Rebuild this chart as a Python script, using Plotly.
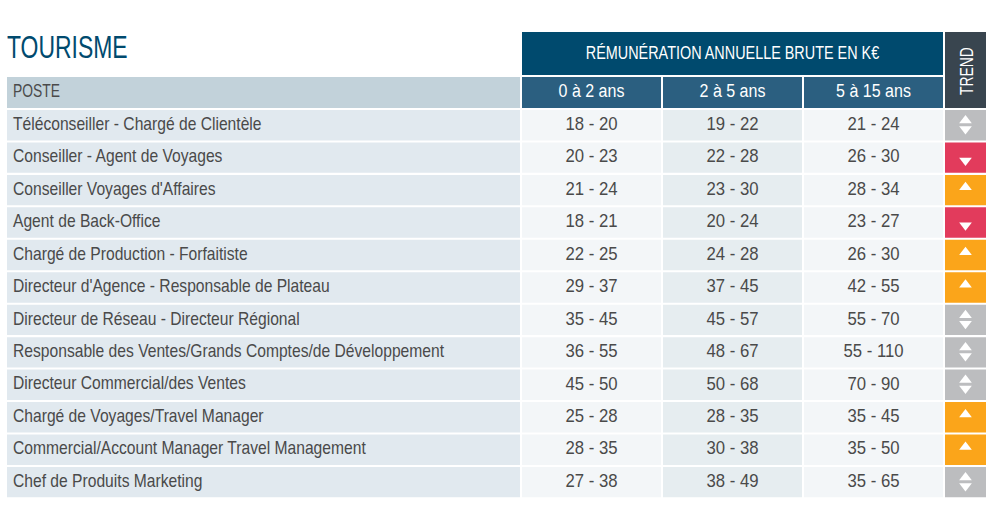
import json
import plotly.graph_objects as go

title = "TOURISME"
group_header = "RÉMUNÉRATION ANNUELLE BRUTE EN K€"
trend_header = "TREND"
poste_header = "POSTE"
periods = ["0 à 2 ans", "2 à 5 ans", "5 à 15 ans"]
postes = [
    "Téléconseiller - Chargé de Clientèle",
    "Conseiller - Agent de Voyages",
    "Conseiller Voyages d'Affaires",
    "Agent de Back-Office",
    "Chargé de Production - Forfaitiste",
    "Directeur d'Agence - Responsable de Plateau",
    "Directeur de Réseau - Directeur Régional",
    "Responsable des Ventes/Grands Comptes/de Développement",
    "Directeur Commercial/des Ventes",
    "Chargé de Voyages/Travel Manager",
    "Commercial/Account Manager Travel Management",
    "Chef de Produits Marketing",
]
salaires_0_2 = ["18 - 20", "20 - 23", "21 - 24", "18 - 21", "22 - 25", "29 - 37", "35 - 45", "36 - 55", "45 - 50", "25 - 28", "28 - 35", "27 - 38"]
salaires_2_5 = ["19 - 22", "22 - 28", "23 - 30", "20 - 24", "24 - 28", "37 - 45", "45 - 57", "48 - 67", "50 - 68", "28 - 35", "30 - 38", "38 - 49"]
salaires_5_15 = ["21 - 24", "26 - 30", "28 - 34", "23 - 27", "26 - 30", "42 - 55", "55 - 70", "55 - 110", "70 - 90", "35 - 45", "35 - 50", "35 - 65"]
trends = ["flat", "down", "up", "down", "up", "up", "flat", "flat", "flat", "up", "up", "flat"]

FONT = "Liberation Sans, Arial, sans-serif"
TXT = "#4a4a4a"
COLX = [(7, 520), (522, 661), (663, 802), (804, 943), (945, 986)]
ROW0, PITCH, ROWH = 110, 32.45, 30.4
TREND_COL = {"flat": "#bcbdbf", "down": "#e23b5c", "up": "#fba51a"}
VALUE_FILL = ["#f3f6f8", "#e6edf0", "#f3f6f8"]

fig = go.Figure()
shapes = []
tx, ty, tt, tp, ts, tc = [], [], [], [], [], []


def rect(x0, x1, y0, y1, c):
    shapes.append(dict(type="rect", x0=x0, x1=x1, y0=y0, y1=y1, fillcolor=c, line_width=0, layer="below"))


def label(x, y, t, size, color, pos="middle center"):
    tx.append(x); ty.append(y); tt.append(t); ts.append(size); tc.append(color); tp.append(pos)


rect(COLX[1][0], COLX[3][1], 32, 75, "#004a6e")
rect(COLX[4][0], COLX[4][1], 32, 108, "#39454f")
rect(COLX[0][0], COLX[0][1], 77, 108, "#c2d2da")
for (a, b) in COLX[1:4]:
    rect(a, b, 77, 108, "#2b5f80")

label(7, 50, title, 31, "#004a6e", "middle right")
label((COLX[1][0] + COLX[3][1]) / 2, 54, group_header, 18, "#ffffff")
label(13, 92.5, poste_header, 18, TXT, "middle right")
for (a, b), p in zip(COLX[1:4], periods):
    label((a + b) / 2, 92.5, p, 18, "#ffffff")

cols = [salaires_0_2, salaires_2_5, salaires_5_15]
mx, my, msym = [], [], []
for i, poste in enumerate(postes):
    y0 = ROW0 + i * PITCH
    y1 = y0 + ROWH
    ym = (y0 + y1) / 2
    rect(COLX[0][0], COLX[0][1], y0, y1, "#e1e9ef")
    for k, (a, b) in enumerate(COLX[1:4]):
        rect(a, b, y0, y1, VALUE_FILL[k])
        label((a + b) / 2, ym, cols[k][i], 19, TXT)
    rect(COLX[4][0], COLX[4][1], y0, y1, TREND_COL[trends[i]])
    label(13, ym, poste, 18.5, TXT, "middle right")
    cx = (COLX[4][0] + COLX[4][1]) / 2
    if trends[i] == "flat":
        mx += [cx, cx]; my += [ym - 4.75, ym + 3.75]; msym += ["triangle-up", "triangle-down"]
    elif trends[i] == "up":
        mx.append(cx); my.append(ym - 2.75); msym.append("triangle-up")
    else:
        mx.append(cx); my.append(ym + 2.75); msym.append("triangle-down")

fig.add_trace(go.Scatter(x=mx, y=my, mode="markers", hoverinfo="skip",
                         marker=dict(symbol=msym, size=11, color="#ffffff", line_width=0)))
fig.add_trace(go.Scatter(x=tx, y=ty, text=tt, mode="text", hoverinfo="skip", textposition=tp,
                         textfont=dict(family=FONT, size=ts, color=tc)))

fig.update_layout(
    width=993, height=513, autosize=False, margin=dict(l=0, r=0, t=0, b=0),
    paper_bgcolor="#ffffff", plot_bgcolor="#ffffff", showlegend=False,
    shapes=shapes,
    annotations=[dict(x=966, y=71, text=trend_header, showarrow=False, textangle=-90,
                      xanchor="center", yanchor="middle",
                      font=dict(family=FONT, size=18.5, color="#ffffff"))],
    xaxis=dict(range=[0, 993], visible=False, fixedrange=True),
    yaxis=dict(range=[513, 0], visible=False, fixedrange=True),
)

# The reference face is a condensed grotesque; none is installed, so the real text is condensed in SVG.
ratios = {title: .74, group_header: .80, trend_header: .75, poste_header: .77}
ratios.update({p: .89 for p in periods})
for col in cols:
    ratios.update({v: .88 for v in col})
post = """
document.body.style.margin = '0';
document.documentElement.style.overflow = 'hidden';
var R = %s;
document.querySelectorAll('.textpoint text, .annotation-text').forEach(function (t) {
  var k = R[t.textContent] || 0.845;
  var w = t.getComputedTextLength();
  t.setAttribute('textLength', w * k);
  t.setAttribute('lengthAdjust', 'spacingAndGlyphs');
});
""" % json.dumps(ratios, ensure_ascii=False)
fig.write_html("out.html", config=dict(displayModeBar=False), post_script=post)
